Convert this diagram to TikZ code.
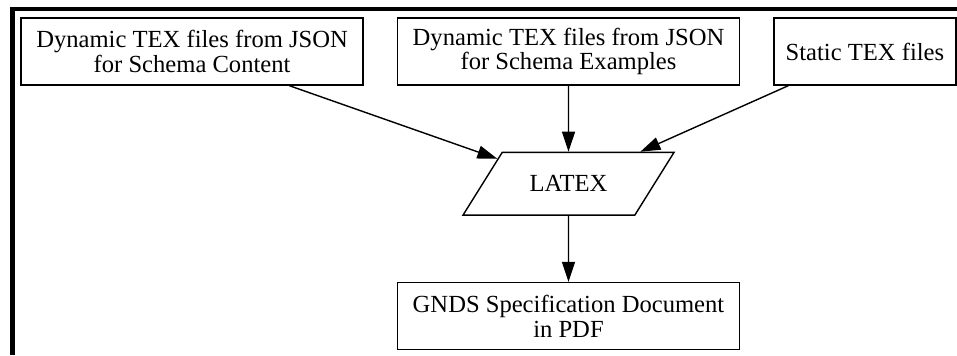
\documentclass[tikz,border=0pt]{standalone}
\usepackage{fontspec}
\setmainfont{Liberation Serif}
\usetikzlibrary{shapes,arrows.meta,positioning}

\begin{document}
\begin{tikzpicture}[
        node distance=1.32cm,
        font=\fontsize{14}{14}\selectfont,
        block/.style={rectangle, draw, fill=white, align=center, minimum width=6.84cm, minimum height=1.34cm, line width=0.8pt},
        smallblock/.style={block, minimum width=3.64cm},
        tool/.style={trapezium, trapezium left angle=58, trapezium right angle=122, trapezium stretches body, draw, fill=white, minimum width=4.22cm, inner ysep=0.465cm, line width=0.8pt},
        line/.style={draw, -{Triangle[length=0.4cm, width=0.26cm]}, line width=0.8pt},
        frame/.style={draw, line width=2.6pt}
    ]
    \useasboundingbox (0,0) rectangle (19.14,7.1);

    % Outer frame
    \draw [frame] (0.25,0) |- (19.14,6.92);

    % Input Layer
    \node [block] (examples) at (11.37,6.07) {Dynamic TEX files from JSON\\for Schema Examples};
    \node [block, left=0.66cm of examples] (content) {Dynamic TEX files from JSON\\for Schema Content};
    \node [smallblock, right=0.66cm of examples] (static) {Static TEX files};

    % Compile Layer
    \node [tool, below=1.32cm of examples] (latex) {LATEX};

    % Output Layer
    \node [block, below=1.32cm of latex] (pdf) {GNDS Specification Document\\in PDF};

    % Connections - Inputs to LaTeX
    \path [line] (content) -- (latex);
    \path [line] (examples) -- (latex);
    \path [line] (static) -- (latex);

    % LaTeX to output
    \path [line] (latex) -- (pdf);

\end{tikzpicture}
\end{document}
